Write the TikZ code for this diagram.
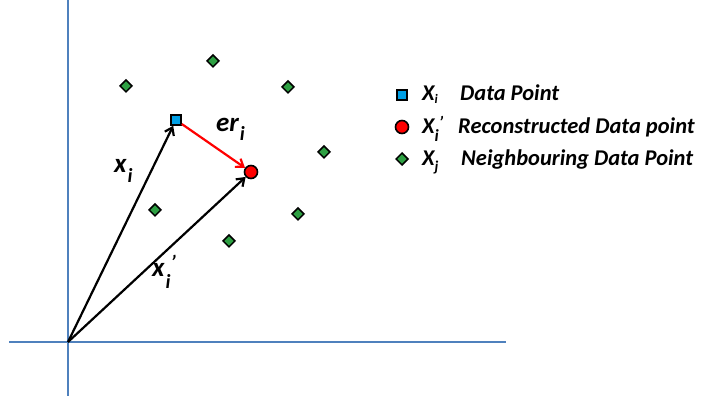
\documentclass[tikz,border=0pt]{standalone}
\usepackage{fontspec}
\setmainfont{Carlito}
\usetikzlibrary{arrows.meta,shapes.geometric}
\definecolor{axisblue}{HTML}{4F81BD}
\definecolor{sqblue}{HTML}{00A0E6}
\definecolor{dgreen}{HTML}{2EA043}
\newcommand{\lsub}[3]{#1\hspace{1pt}\raisebox{#3}{\fontsize{#2}{#2}\selectfont i}}
\tikzset{
  axis/.style={axisblue,line width=2pt},
  vec/.style={black,line width=2.2pt,-{Straight Barb[length=7pt,width=10pt]}},
  errvec/.style={red,line width=2.2pt,-{Straight Barb[length=7pt,width=10pt]}},
  sqpt/.style={draw=black,fill=sqblue,line width=1.6pt,minimum size=10pt,inner sep=0pt,rectangle},
  cpt/.style={draw=black,fill=red,line width=1.6pt,minimum size=13pt,inner sep=0pt,circle},
  dpt/.style={draw=black,fill=dgreen,line width=1.5pt,diamond,minimum size=12.5pt,inner sep=0pt},
  lbl/.style={font=\fontsize{22.5}{24}\selectfont\bfseries\itshape,inner sep=0pt},
  vlbl/.style={font=\fontsize{27}{28}\selectfont\bfseries\itshape,inner sep=0pt,anchor=base west},
}
\begin{document}
\begin{tikzpicture}[x=1pt,y=-1pt]
\useasboundingbox (0,0) rectangle (705,403);
% axes
\coordinate (vtop) at (68,0);
\coordinate (vbot) at (68,396);
\coordinate (hl) at (9,342);
\coordinate (hr) at (506,342);
\coordinate (O) at (68,342);
\draw[axis] (vtop) -- (vbot);
\draw[axis] (hl) -- (hr);
% points
\node[sqpt] (xi) at (176,120) {};
\node[cpt] (xr) at (251,172) {};
\node[dpt] (d1) at (126,86) {};
\node[dpt] (d2) at (213,61) {};
\node[dpt] (d3) at (288,87) {};
\node[dpt] (d4) at (324,152) {};
\node[dpt] (d5) at (155,210) {};
\node[dpt] (d6) at (298,214) {};
\node[dpt] (d7) at (229,241) {};
% vectors
\draw[vec] (O) -- (xi);
\draw[vec] (O) -- (xr);
\draw[errvec] (xi) -- (xr);
% vector labels
\node[vlbl] (lxi) at (114,173) {\lsub{x}{20}{-10pt}};
\node[vlbl] (lxr) at (152,277) {\lsub{x}{20}{-12pt}\raisebox{7pt}{\fontsize{20}{20}\selectfont\textquoteright}};
\node[vlbl] (ler) at (216,132) {\lsub{er}{20}{-9pt}};
% legend
\node[sqpt] (lg1) at (402,95) {};
\node[cpt] (lg2) at (402,127) {};
\node[dpt] (lg3) at (402,159) {};
\node[lbl,anchor=base west] (t1) at (422,101) {X\raisebox{-3pt}{\fontsize{13}{13}\selectfont i}};
\node[lbl,anchor=base west] (t2) at (422,134) {X\raisebox{-8pt}{\fontsize{17}{17}\selectfont i}\raisebox{5pt}{\fontsize{17}{17}\selectfont\textquoteright}};
\node[lbl,anchor=base west] (t3) at (422,166) {X\raisebox{-6pt}{\fontsize{15}{15}\selectfont j}};
\node[lbl,anchor=base west] (u1) at (460,101) {Data Point};
\node[lbl,anchor=base west] (u2) at (458,134) {Reconstructed Data point};
\node[lbl,anchor=base west] (u3) at (461,166) {Neighbouring Data Point};
\end{tikzpicture}
\end{document}
